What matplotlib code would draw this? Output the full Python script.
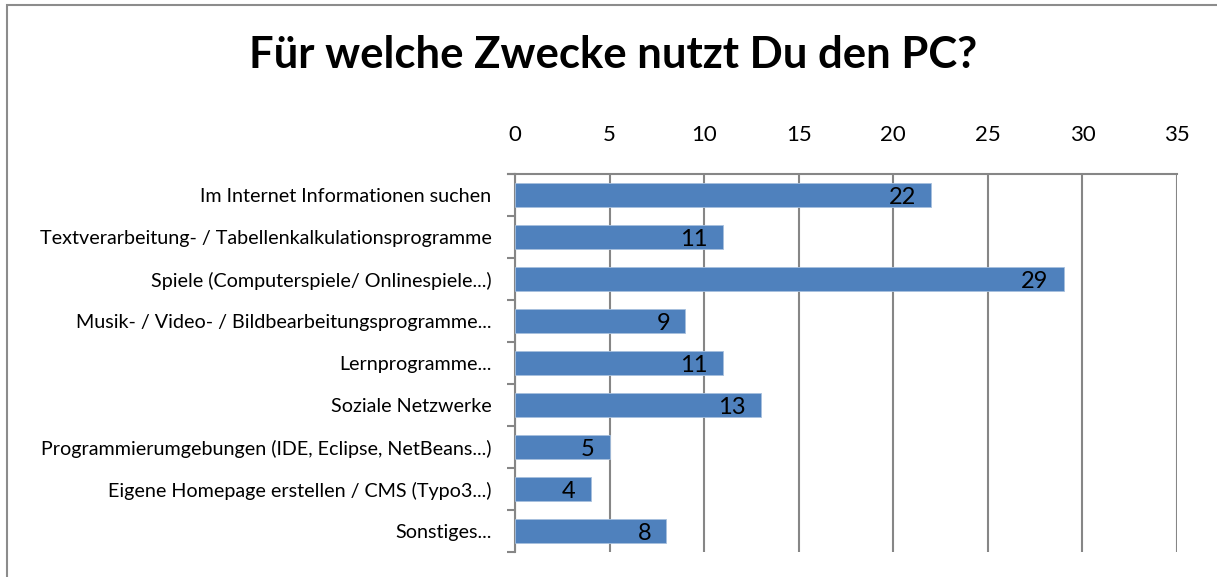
import matplotlib.pyplot as plt
from matplotlib.patches import Rectangle

# Data
categories = [
    "Im Internet Informationen suchen",
    "Textverarbeitung- / Tabellenkalkulationsprogramme",
    "Spiele (Computerspiele/ Onlinespiele...)",
    "Musik- / Video- / Bildbearbeitungsprogramme...",
    "Lernprogramme...",
    "Soziale Netzwerke",
    "Programmierumgebungen (IDE, Eclipse, NetBeans...)",
    "Eigene Homepage erstellen / CMS (Typo3...)",
    "Sonstiges...",
]
values = [22, 11, 29, 9, 11, 13, 5, 4, 8]
x_ticks = [0, 5, 10, 15, 20, 25, 30, 35]

plt.rcParams['font.family'] = ['Lato', 'DejaVu Sans']
grid_color = '#868686'
bar_color = '#4F81BD'

fig = plt.figure(figsize=(12.17, 5.77), dpi=100)

# outer chart border
fig.patches.append(Rectangle((7 / 1217, -0.05), 1.1, 1.05 - 5 / 577, transform=fig.transFigure,
                             fill=False, edgecolor='#8c8c8c', linewidth=1.5))

ax = fig.add_axes([515 / 1217, 1 - 552 / 577, (1177 - 515) / 1217, (552 - 174) / 577])

pos = list(range(len(categories)))
ax.barh(pos, values, height=0.57, color=bar_color, edgecolor='#a7c0de', linewidth=0.6, zorder=3)

for p, v in zip(pos, values):
    ax.text(v - 0.8, p + 0.07, str(v), ha='right', va='center', fontsize=17, color='black', zorder=4)

ax.set_xlim(0, 35)
ax.set_ylim(len(categories) - 0.5, -0.5)
ax.set_xticks(x_ticks)
ax.xaxis.tick_top()
ax.tick_params(axis='x', length=0, labelsize=16, pad=21)
ax.grid(axis='x', color=grid_color, linewidth=1.5, zorder=0)

# category ticks between bars on the left axis
ax.set_yticks(pos)
ax.set_yticklabels(categories, fontsize=14.2)
ax.tick_params(axis='y', length=0, pad=17)
ax.set_yticks([p - 0.5 for p in pos] + [len(categories) - 0.5], minor=True)
ax.tick_params(axis='y', which='minor', length=6, color=grid_color, width=1.5)

for side in ['right', 'bottom']:
    ax.spines[side].set_visible(False)
for side in ['left', 'top']:
    ax.spines[side].set_color(grid_color)
    ax.spines[side].set_linewidth(1.5)
ax.plot([-0.35, 0], [-0.5, -0.5], color=grid_color, linewidth=1.5, clip_on=False)

fig.text(0.504, 1 - 55 / 577, "Für welche Zwecke nutzt Du den PC?", ha='center', va='center',
         fontsize=31.4, fontweight='bold')

fig.savefig("out.png", dpi=100)
